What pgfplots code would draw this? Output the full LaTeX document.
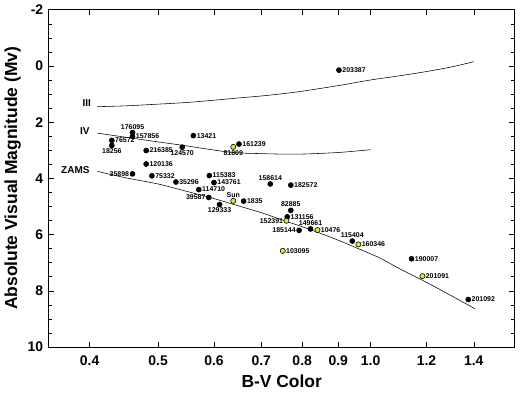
\documentclass[border=0pt]{standalone}
\usepackage{fontspec}
\setmainfont{Liberation Sans}
\usepackage{pgfplots}
\usepackage{pgfplotstable}
\pgfplotsset{compat=1.18}
\definecolor{staryel}{RGB}{228,222,60}

\pgfplotsset{
  star/.style n args={3}{only marks, mark=*, mark size=#2,
    mark options={fill=#1, draw=black, line width=0.6pt},
    nodes near coords, point meta=explicit symbolic,
    every node near coord/.append style={anchor=#3, outer sep=2.9bp,
      font=\fontsize{7}{7}\selectfont\bfseries, inner sep=0.5bp, black}},
}

% black stars, label to the right
\pgfplotstableread{
x y label
0.460 2.51 157856
0.430 2.65 76572
0.561 2.48 13421
0.481 3.01 216385
0.651 2.78 161239
0.481 3.49 120136
0.490 3.91 75332
0.530 4.13 35296
0.591 3.90 115383
0.600 4.15 143761
0.571 4.40 114710
0.661 4.81 1835
0.771 4.24 182572
0.762 5.37 131156
1.143 6.86 190007
1.375 8.31 201092
0.902 0.15 203387
}\blackright
% black stars, label to the left
\pgfplotstableread{
x y label
0.460 3.84 35898
0.590 4.68 39587
0.792 5.85 185144
}\blackleft
% black stars, label above
\pgfplotstableread{
x y label
0.460 2.37 176095
0.721 4.20 158614
0.771 5.14 82885
0.822 5.80 149661
0.942 6.23 115404
}\blackabove
% black stars, label below
\pgfplotstableread{
x y label
0.430 2.83 18256
0.541 2.89 124570
0.611 4.93 129333
}\blackbelow
% yellow stars
\pgfplotstableread{
x y label
0.841 5.84 10476
0.751 6.58 103095
0.961 6.35 160346
1.184 7.48 201091
}\yellowright
\pgfplotstableread{
x y label
0.760 5.51 152391
}\yellowleft
\pgfplotstableread{
x y label
0.639 4.80 Sun
}\yellowabove
\pgfplotstableread{
x y label
0.639 2.88 81809
}\yellowbelow

\begin{document}
\begin{tikzpicture}
\path[use as bounding box] (-48.7bp,-52bp) rectangle (477.3bp,347bp);
\begin{axis}[
  at={(0,0)}, anchor=south west,
  scale only axis, width=466bp, height=337.3bp,
  xmode=log, xmin=0.35, xmax=1.6,
  ymin=-2, ymax=10, y dir=reverse,
  xtick={0.4,0.5,0.6,0.7,0.8,0.9,1.0,1.2,1.4},
  xticklabels={0.4,0.5,0.6,0.7,0.8,0.9,1.0,1.2,1.4},
  minor xtick={},
  ytick={-2,0,2,4,6,8,10},
  yticklabels={-2,0,2,4,6,8,10},
  minor ytick={-1.5,-1,-0.5,0.5,1,1.5,2.5,3,3.5,4.5,5,5.5,6.5,7,7.5,8.5,9,9.5},
  tick align=inside, tick pos=both,
  major tick length=5.5bp, minor tick length=3.5bp,
  every tick/.style={black, line width=0.5pt},
  axis line style={line width=0.6pt},
  /pgf/number format/assume math mode=true,
  tick label style={font=\fontsize{14}{14}\selectfont\bfseries},
  xticklabel style={yshift=-5bp},
  yticklabel style={xshift=-2bp},
  xlabel={B-V Color}, ylabel={Absolute Visual Magnitude (Mv)},
  label style={font=\fontsize{17.5}{18}\selectfont\bfseries},
  xlabel style={yshift=-3bp},
  clip=false,
]
% luminosity class curves
\addplot[black, line width=0.55pt, smooth] coordinates {
(0.41,1.45) (0.45,1.42) (0.5,1.36) (0.55,1.30) (0.6,1.22) (0.65,1.14) (0.7,1.07) (0.75,0.99) (0.8,0.90) (0.9,0.70) (1.0,0.50) (1.1,0.35) (1.2,0.20) (1.3,0.04) (1.4,-0.15)};
\addplot[black, line width=0.55pt, smooth] coordinates {
(0.41,2.39) (0.48,2.64) (0.54,2.82) (0.632,3.07) (0.70,3.12) (0.786,3.14) (0.9,3.08) (1.0,2.98)};
\addplot[black, line width=0.55pt, smooth] coordinates {
(0.41,3.75) (0.45,3.98) (0.5,4.20) (0.537,4.40) (0.6,4.72) (0.65,4.98) (0.7,5.22) (0.75,5.48) (0.8,5.72) (0.85,5.96) (0.904,6.22) (0.95,6.45) (1.03,6.83) (1.1,7.22) (1.2,7.70) (1.3,8.17) (1.406,8.64)};
\node[anchor=east, font=\fontsize{10}{10}\selectfont\bfseries, inner sep=0pt] at (axis cs:0.402,1.31) {III};
\node[anchor=east, font=\fontsize{10}{10}\selectfont\bfseries, inner sep=0pt] at (axis cs:0.400,2.31) {IV};
\node[anchor=east, font=\fontsize{10}{10}\selectfont\bfseries, inner sep=0pt] at (axis cs:0.400,3.70) {ZAMS};
% stars
\addplot[star={black}{2.5bp}{west}] table[x=x, y=y, meta=label] {\blackright};
\addplot[star={black}{2.5bp}{east}] table[x=x, y=y, meta=label] {\blackleft};
\addplot[star={black}{2.5bp}{south}] table[x=x, y=y, meta=label] {\blackabove};
\addplot[star={black}{2.5bp}{north}] table[x=x, y=y, meta=label] {\blackbelow};
\addplot[star={staryel}{2.6bp}{west}] table[x=x, y=y, meta=label] {\yellowright};
\addplot[star={staryel}{2.6bp}{east}] table[x=x, y=y, meta=label] {\yellowleft};
\addplot[star={staryel}{2.6bp}{south}] table[x=x, y=y, meta=label] {\yellowabove};
\addplot[star={staryel}{2.6bp}{north}] table[x=x, y=y, meta=label] {\yellowbelow};
\end{axis}
\end{tikzpicture}
\end{document}
